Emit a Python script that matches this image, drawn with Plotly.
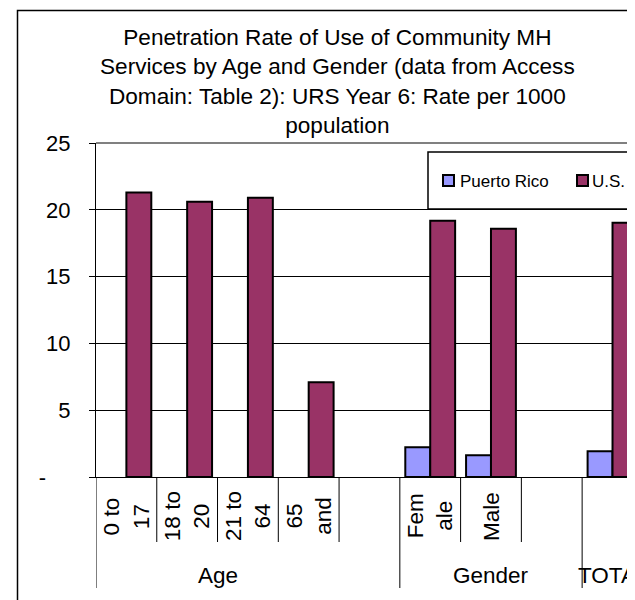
import plotly.graph_objects as go

# ---- data ----
cat_keys = ["0 to 17", "18 to 20", "21 to 64", "65 and", "gapA", "Female", "Male", "gapB", "TOTAL"]
cat_labels = ["0 to<br>17", "18 to<br>20", "21 to<br>64", "65<br>and", "", "Fem<br>ale", "Male", "", ""]
group_labels = ["Age", "Gender", "TOTAL"]
group_centers = [1.5, 6, 8]
group_bounds = [-0.5, 4.5, 7.5]
inner_bounds = [0.5, 1.5, 2.5, 3.5, 5.5, 6.5]
puerto_rico = [None, None, None, None, None, 2.23, 1.63, None, 1.93]
us = [21.3, 20.6, 20.9, 7.1, None, 19.18, 18.58, None, 19.03]
y_ticks = [0, 5, 10, 15, 20, 25]
y_ticktext = ["-\u2007\u2007", "5", "10", "15", "20", "25"]

PR_COLOR = "#9999FF"
US_COLOR = "#993366"
FONT = "Arial, 'Liberation Sans', sans-serif"

# the page body has an 8px margin, so the figure is offset by 8px
OFF = 8
W, H = 635 - OFF, 600 - OFF
L, T = 96 - OFF, 143 - OFF
B = H - (477 - OFF)
R = 0
PW, PH = W - L - R, H - T - B

def px_x(px):
    return (px - OFF - L) / PW

def px_y(py):
    return (H - B - (py - OFF)) / PH

fig = go.Figure()
fig.add_trace(go.Bar(x=cat_keys, y=puerto_rico, name="Puerto Rico",
                     marker=dict(color=PR_COLOR, line=dict(color="black", width=2)),
                     showlegend=False))
fig.add_trace(go.Bar(x=cat_keys, y=us, name="U.S.",
                     marker=dict(color=US_COLOR, line=dict(color="black", width=2)),
                     showlegend=False))

shapes = []
annotations = []

# category separators
for b in inner_bounds:
    shapes.append(dict(type="line", xref="x", yref="paper", x0=b, x1=b,
                       y0=px_y(477), y1=px_y(542), line=dict(color="black", width=1)))
for b in group_bounds:
    shapes.append(dict(type="line", xref="x", yref="paper", x0=b, x1=b,
                       y0=px_y(477), y1=px_y(588), line=dict(color="black", width=1)))

# category labels
for i, lab in enumerate(cat_labels):
    if lab:
        annotations.append(dict(x=i, xref="x", y=px_y(516), yref="paper", text=lab,
                                textangle=-90, showarrow=False, xanchor="center", yanchor="middle",
                                font=dict(family=FONT, size=22.5, color="black")))
for c, g in zip(group_centers, group_labels):
    annotations.append(dict(x=c, xref="x", y=px_y(575), yref="paper", text=g,
                            showarrow=False, xanchor="center", yanchor="middle",
                            font=dict(family=FONT, size=22.5, color="black")))

# title
annotations.append(dict(x=px_x(337), xref="paper", y=px_y(81), yref="paper",
                        text="Penetration Rate of Use of Community MH<br>Services by Age and Gender (data from Access<br>Domain: Table 2): URS Year 6: Rate per 1000<br>population",
                        showarrow=False, xanchor="center", yanchor="middle",
                        font=dict(family=FONT, size=22.6, color="black")))

# plot area top border (gray)
shapes.append(dict(type="line", xref="paper", yref="paper", x0=0, x1=1.05, y0=1, y1=1,
                   line=dict(color="#808080", width=2)))

# outer chart border
shapes.append(dict(type="rect", xref="paper", yref="paper", x0=px_x(17.5), x1=1.1,
                   y0=px_y(615), y1=px_y(10.5), line=dict(color="black", width=1.5),
                   fillcolor="rgba(0,0,0,0)"))

# legend box
shapes.append(dict(type="rect", xref="paper", yref="paper", x0=px_x(428), x1=1.1,
                   y0=px_y(209), y1=px_y(152), line=dict(color="black", width=1.5),
                   fillcolor="white"))
for x0, col in [(443, PR_COLOR), (577, US_COLOR)]:
    shapes.append(dict(type="rect", xref="paper", yref="paper", x0=px_x(x0), x1=px_x(x0 + 11),
                       y0=px_y(186), y1=px_y(175), line=dict(color="black", width=2),
                       fillcolor=col))
for x0, txt in [(458, "Puerto Rico"), (590, "U.S.")]:
    annotations.append(dict(x=px_x(x0), xref="paper", y=px_y(181), yref="paper", text=txt,
                            showarrow=False, xanchor="left", yanchor="middle",
                            font=dict(family=FONT, size=17, color="black")))

fig.update_layout(
    width=W, height=H,
    margin=dict(l=L, r=R, t=T, b=B, pad=0),
    paper_bgcolor="white", plot_bgcolor="white",
    barmode="group", bargap=0.18, bargroupgap=0,
    showlegend=False,
    shapes=shapes, annotations=annotations,
    font=dict(family=FONT, size=22, color="black"),
)
fig.update_xaxes(type="category", categoryorder="array", categoryarray=cat_keys,
                 range=[-0.5, 8.37], showticklabels=False, ticks="",
                 showline=True, linecolor="black", linewidth=1, showgrid=False,
                 zeroline=False, fixedrange=True)
fig.update_yaxes(range=[0, 25], tickvals=y_ticks, ticktext=y_ticktext,
                 ticks="outside", ticklen=6, tickcolor="black", tickwidth=1,
                 ticklabelstandoff=14,
                 showline=True, linecolor="black", linewidth=1,
                 showgrid=True, gridcolor="black", gridwidth=1,
                 zeroline=False, tickfont=dict(family=FONT, size=22, color="black"),
                 fixedrange=True)

fig.write_html("out.html")
